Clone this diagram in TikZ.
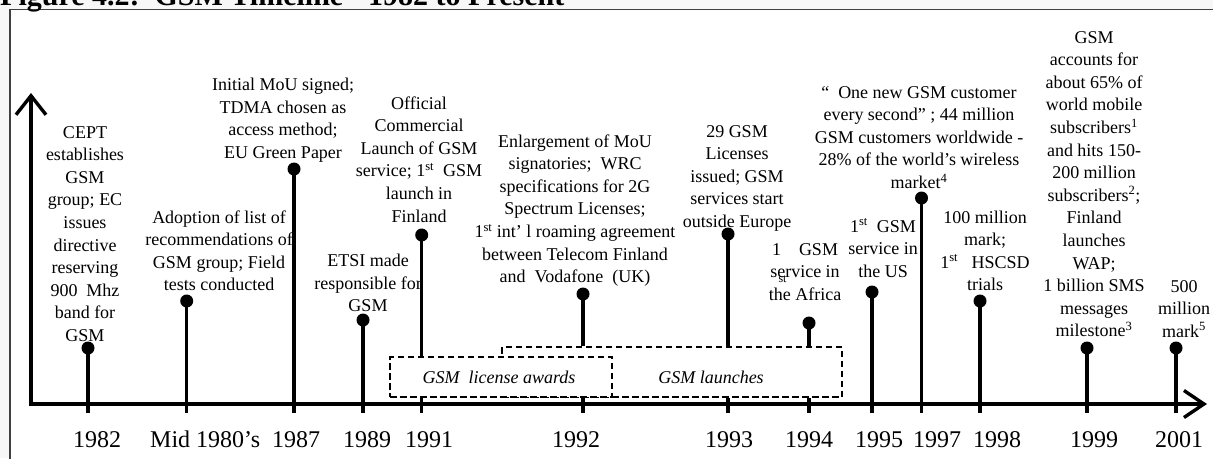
\documentclass[tikz,border=0pt]{standalone}
\usepackage{fontspec}
\setmainfont{Liberation Serif}
\usetikzlibrary{arrows.meta}
\begin{document}
\begin{tikzpicture}[x=1pt,y=-1pt,
  txt/.style={font=\fontsize{18}{22.6}\selectfont, align=center, inner sep=0pt, anchor=base},
  yr/.style={font=\fontsize{24}{28}\selectfont, inner sep=0pt, anchor=base west},
  stem/.style={line width=3.2pt},
  dotn/.style={circle, fill=black, inner sep=0pt, minimum size=13pt},
  dbox/.style={draw, line width=2pt, dash pattern=on 6.5pt off 3.5pt, inner sep=0pt},
  axis/.style={line width=3.4pt},
  lbl/.style={font=\fontsize{18}{22.6}\selectfont\itshape, inner sep=0pt}
]
\useasboundingbox (0,0) rectangle (1213,458);
\clip (0,0) rectangle (1213,458);
\fill[gray!6] (0,0) rectangle (1213,458);
\draw[line width=1.3pt, draw=black!75, fill=white] (10,9.5) rectangle (1230,470);
\node[font=\fontsize{30}{32}\selectfont\bfseries, anchor=base west, inner sep=0pt] (title) at (0,5) {Figure 4.2:\ \ GSM Timeline - 1982 to Present};

% texts (anchor = baseline of last line)
\node[txt] (cept) at (85,341.4) {CEPT\\establishes\\GSM\\group; EC\\issues\\directive\\reserving\\900\ \ Mhz\\band for\\GSM};
\node[txt] (adopt) at (219,290.8) {Adoption of list of\\recommendations of\\GSM group; Field\\tests conducted};
\node[txt] (mou) at (283,158.3) {Initial MoU signed;\\TDMA chosen as\\access method;\\EU Green Paper};
\node[txt] (etsi) at (368,311.7) {ETSI made\\responsible for\\GSM};
\node[txt] (offic) at (419,222) {Official\\Commercial\\Launch of GSM\\service; 1\textsuperscript{st}\ \ GSM\\launch in\\Finland};
\node[txt] (enl) at (575,282.6) {Enlargement of MoU\\signatories;\ \ WRC\\specifications for 2G\\Spectrum Licenses;\\1\textsuperscript{st}\ int’\ l roaming agreement\\between Telecom Finland\\and\ \ Vodafone\ \ (UK)};
\node[txt] (lic29) at (737,227.4) {29 GSM\\Licenses\\issued; GSM\\services start\\outside Europe};
\node[txt] (afr) at (805,300.2) {1\ \ \ \ GSM\\service in\\the Africa};
\node[font=\fontsize{12}{12}\selectfont, inner sep=0pt, anchor=base] (afrst) at (782.5,282) {st};
\node[txt] (us) at (883,277.2) {1\textsuperscript{st}\ \ GSM\\service in\\the US};
\node[txt] (cust) at (919,188.4) {“\ \ One new GSM customer\\every second” ; 44 million\\GSM customers worldwide -\\28\% of the world's wireless\\market\textsuperscript{4}};
\node[txt] (hund) at (985,290.8) {100 million\\mark;\\1\textsuperscript{st}\ \ \ HSCSD\\trials};
\node[txt] (acc) at (1094,336.8) {GSM\\accounts for\\about 65\% of\\world mobile\\subscribers\textsuperscript{1}\\and hits 150-\\200 million\\subscribers\textsuperscript{2};\\Finland\\launches\\WAP;\\1 billion SMS\\messages\\milestone\textsuperscript{3}};
\node[txt] (fiveh) at (1184,337.2) {500\\million\\mark\textsuperscript{5}};

% dashed boxes
\node[dbox, minimum width=340pt, minimum height=50pt] (launch) at (672,372) {};
\node[dbox, fill=white, minimum width=222pt, minimum height=40pt] (lic) at (501,377) {};
\node[lbl] (licl) at (499,377) {GSM\ \ license awards};
\node[lbl] (launl) at (711,377) {GSM launches};

% dots
\node[dotn] (d82) at (88,348) {};
\node[dotn] (d85) at (186.7,301) {};
\node[dotn] (d87) at (294,169) {};
\node[dotn] (d89) at (363,320) {};
\node[dotn] (d91) at (421.7,235) {};
\node[dotn] (d92) at (583,294) {};
\node[dotn] (d93) at (728,234) {};
\node[dotn] (d94) at (809,323) {};
\node[dotn] (d95) at (872,292) {};
\node[dotn] (d97) at (921.5,198) {};
\node[dotn] (d98) at (980,301) {};
\node[dotn] (d99) at (1087,348) {};
\node[dotn] (d01) at (1176,348) {};

% tick ends
\foreach \n in {82,85,87,89,91,92,93,94,95,97,98,99,01}{
  \coordinate (b\n) at (d\n |- 0,413);
}
\foreach \n in {82,85,87,89,95,97,98,99,01}{
  \draw[stem] (d\n.center) -- (b\n);
}
\draw[stem] (d91.center) -- (d91 |- lic.north);
\draw[stem] (d91 |- lic.south) -- (b91);
\foreach \n in {92,93,94}{
  \draw[stem] (d\n.center) -- (d\n |- launch.north);
  \draw[stem] (d\n |- launch.south) -- (b\n);
}

% axes
\coordinate (O) at (31,404);
\coordinate (ytip) at (31,93);
\coordinate (xtip) at (1207,404);
\draw[axis, {Straight Barb[length=19pt,width=30pt]}-{Straight Barb[length=20pt,width=27pt]}] (ytip) -- (O) -- (xtip);

% years
\node[yr] (y82) at (73,447) {1982};
\node[yr] (y85) at (150,447) {Mid 1980’s};
\node[yr] (y87) at (272,447) {1987};
\node[yr] (y89) at (343,447) {1989};
\node[yr] (y91) at (405,447) {1991};
\node[yr] (y92) at (552,447) {1992};
\node[yr] (y93) at (705,447) {1993};
\node[yr] (y94) at (785,447) {1994};
\node[yr] (y95) at (855,447) {1995};
\node[yr] (y97) at (913,447) {1997};
\node[yr] (y98) at (973,447) {1998};
\node[yr] (y99) at (1070,447) {1999};
\node[yr] (y01) at (1155,447) {2001};
\end{tikzpicture}
\end{document}
